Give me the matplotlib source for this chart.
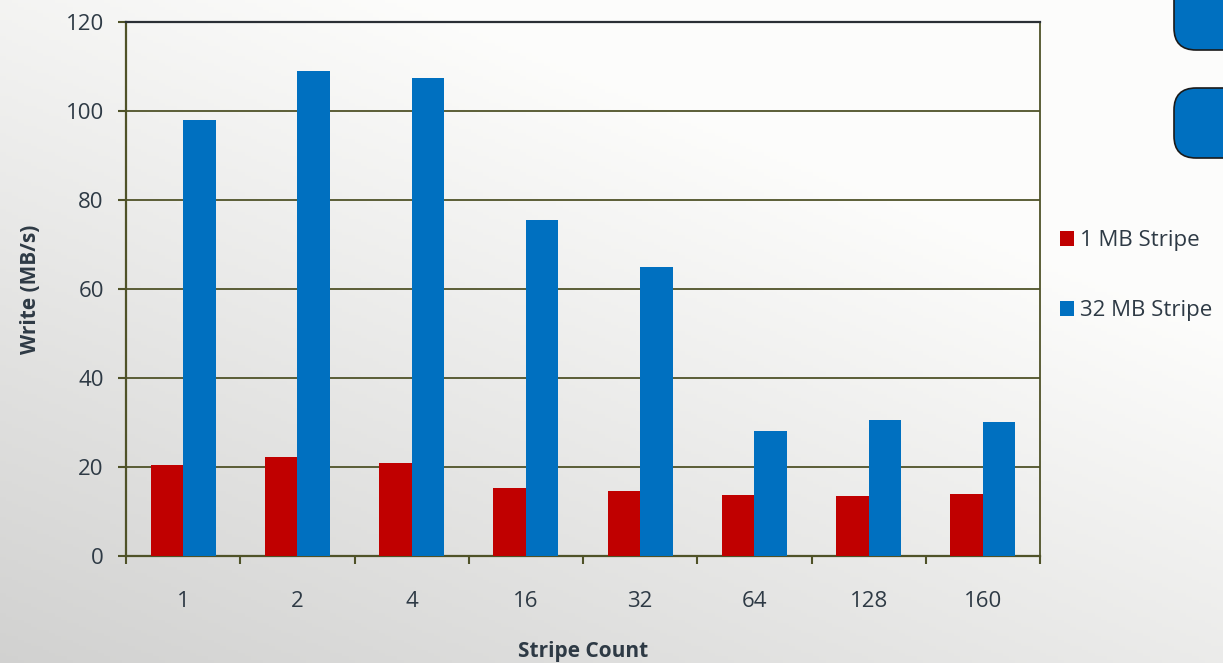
import matplotlib
matplotlib.use("Agg")
import matplotlib.pyplot as plt
import numpy as np
from matplotlib.patches import FancyBboxPatch

categories = ["1", "2", "4", "16", "32", "64", "128", "160"]
stripe_1mb = [20.4, 22.2, 20.9, 15.3, 14.6, 13.7, 13.5, 13.9]
stripe_32mb = [98.0, 109.0, 107.4, 75.5, 64.9, 28.1, 30.6, 30.1]
series_names = ["1 MB Stripe", "32 MB Stripe"]
y_ticks = [0, 20, 40, 60, 80, 100, 120]

plt.rcParams['font.family'] = ['Open Sans', 'DejaVu Sans']
txt = '#2e3a45'
olive = '#4f5228'

fig = plt.figure(figsize=(12.23, 6.63), dpi=100)

# background gradient
bg = fig.add_axes([0, 0, 1, 1], zorder=-10)
yy, xx = np.mgrid[0:1:200j, 0:1:200j]
g = 0.83 + 0.17 * np.clip(0.6 * xx + 0.8 * (1 - yy), 0, 1)
g = np.clip(g, 0, 1)
img = np.dstack([g * 0.99, g * 0.99, g * 0.985])
bg.imshow(img, extent=[0, 1, 0, 1], aspect='auto', origin='upper')
bg.axis('off')

# decorative rounded boxes at top right
for (x0, y0, w, h) in [(1174, -30, 80, 80), (1174, 88, 80, 70)]:
    p = FancyBboxPatch((x0 / 1223, 1 - (y0 + h) / 663), w / 1223, h / 663,
                       boxstyle="round,pad=0,rounding_size=0.018",
                       transform=fig.transFigure, facecolor='#0070c0',
                       edgecolor='#1a1a1a', linewidth=1.2, mutation_aspect=1223/663)
    fig.patches.append(p)

ax = fig.add_axes([126 / 1223, 1 - 556 / 663, (1040 - 126) / 1223, (556 - 22) / 663])
ax.set_facecolor('none')
x = np.arange(len(categories))
w = 0.285
ax.bar(x - w / 2, stripe_1mb, w, color='#c00000', label=series_names[0], zorder=3)
ax.bar(x + w / 2, stripe_32mb, w, color='#0070c0', label=series_names[1], zorder=3)

ax.set_xlim(-0.5, len(categories) - 0.5)
ax.set_ylim(0, 120)
ax.set_yticks(y_ticks)
ax.set_xticks(x)
ax.set_xticklabels(categories)
ax.set_xticks(np.arange(-0.5, len(categories)), minor=True)
ax.tick_params(axis='x', which='major', length=0, pad=25, labelsize=16, labelcolor=txt)
ax.tick_params(axis='x', which='minor', length=6, width=1.5, color=olive, direction='out')
ax.tick_params(axis='y', length=6, width=1.5, color=olive, labelsize=16, labelcolor=txt, pad=10)
ax.yaxis.grid(True, color=olive, linewidth=1.3, zorder=0)
for s in ['left', 'bottom']:
    ax.spines[s].set_color(olive)
    ax.spines[s].set_linewidth(1.6)
ax.spines['top'].set_color('#2a2f35')
ax.spines['top'].set_linewidth(1.6)
ax.spines['right'].set_color(olive)
ax.spines['right'].set_linewidth(1.3)

ax.set_ylabel("Write (MB/s)", fontsize=15, fontweight='bold', color=txt)
ax.yaxis.set_label_coords((30 - 126) / 914, 0.5)
ax.yaxis.label.set_va('center')
ax.set_xlabel("Stripe Count", fontsize=15, fontweight='bold', color=txt)
ax.xaxis.set_label_coords(0.5, (556 - 651) / 534)
ax.xaxis.label.set_va('center')

leg = ax.legend(loc='upper left', bbox_to_anchor=((1060 - 126) / 914, (556 - 230) / 534),
                frameon=False, borderaxespad=0, borderpad=0,
                fontsize=16, handlelength=0.65, handleheight=0.65, handletextpad=0.25,
                labelspacing=2.2, labelcolor=txt)

fig.savefig("out.png", dpi=100)
